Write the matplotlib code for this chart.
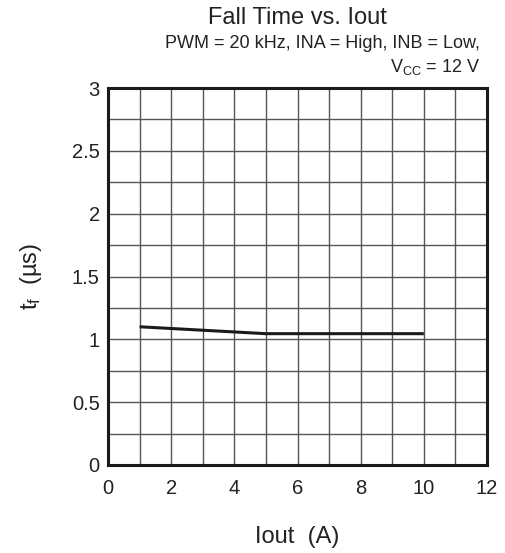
import matplotlib
matplotlib.use('Agg')
import matplotlib.pyplot as plt

plt.rcParams['font.family'] = ['Liberation Sans', 'DejaVu Sans']
plt.rcParams['mathtext.default'] = 'regular'

# fall time vs output current
iout = [1, 5, 10]
tf = [1.10, 1.045, 1.045]

xticks = [0, 2, 4, 6, 8, 10, 12]
yticks = [0, 0.5, 1, 1.5, 2, 2.5, 3]
yticklabels = ['0', '0.5', '1', '1.5', '2', '2.5', '3']

fig = plt.figure(figsize=(5.05, 5.53), dpi=100)
ax = fig.add_axes([108 / 505, 1 - 465 / 553, 379 / 505, 377 / 553])

ax.plot(iout, tf, color='#1a1a1a', lw=2.2, solid_capstyle='butt', zorder=3)

ax.set_xlim(0, 12)
ax.set_ylim(0, 3)
ax.set_xticks(xticks, labels=[str(v) for v in xticks])
ax.set_xticks(range(0, 13), minor=True)
ax.set_yticks(yticks, labels=yticklabels)
ax.set_yticks([i * 0.25 for i in range(13)], minor=True)
ax.grid(True, which='both', color='#555555', lw=1.0)
ax.tick_params(which='both', length=0, labelsize=14.5, colors='#222222')
ax.tick_params(axis='x', pad=10)
ax.tick_params(axis='y', pad=6)
for s in ax.spines.values():
    s.set_linewidth(2.2)
    s.set_color('#1a1a1a')

ax.set_xlabel('Iout  (A)', fontsize=17, labelpad=20, color='#222222')
ax.set_ylabel(r'$t_f$  (µs)', fontsize=17, labelpad=20, color='#222222')

fig.text(297 / 505, 1 - 18 / 553, 'Fall Time vs. Iout', ha='center', va='center',
         fontsize=17, color='#222222')
fig.text(480 / 505, 1 - 43 / 553, 'PWM = 20 kHz, INA = High, INB = Low,',
         ha='right', va='center', fontsize=13, color='#222222')
fig.text(480 / 505, 1 - 67 / 553, r'V$_{CC}$ = 12 V',
         ha='right', va='center', fontsize=13, color='#222222')

fig.savefig('out.png', dpi=100)
